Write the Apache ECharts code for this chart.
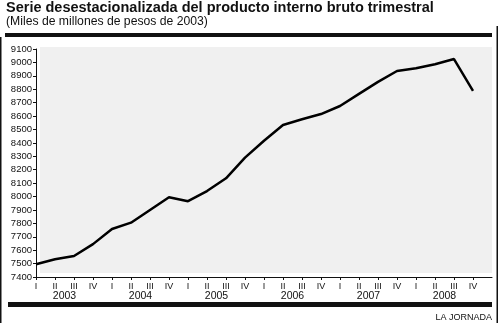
<!DOCTYPE html>
<html>
<head>
<meta charset="utf-8">
<script src="https://cdn.jsdelivr.net/npm/echarts@6/dist/echarts.min.js"></script>
<style>
html,body{margin:0;padding:0;background:#fff;}
#c{width:500px;height:323px;}
</style>
</head>
<body>
<div id="c"></div>
<script>
const years = ['2003', '2004', '2005', '2006', '2007', '2008'];
const quarters = ['I', 'II', 'III', 'IV'];
const pib = [7495, 7532, 7557, 7645, 7758, 7805, 7900, 7995, 7965, 8041, 8136, 8290,
             8416, 8533, 8576, 8615, 8675, 8765, 8855, 8936, 8956, 8986, 9025, 8787];
const yMin = 7400, yMax = 9100, yStep = 100;

const categories = [];
years.forEach(y => quarters.forEach(q => categories.push(y + ' ' + q)));
categories.push(''); // spacer so the axis runs past the last quarter

const FONT = 'Liberation Sans, Arial, sans-serif';
const chart = echarts.init(document.getElementById('c'), null, {renderer: 'canvas'});
chart.setOption({
  animation: false,
  backgroundColor: '#fff',
  grid: [
    {left: 36, right: 8, top: 49, bottom: 46},
    {left: 26.5, right: 17.5, top: 49, bottom: 46}
  ],
  xAxis: [
    {
      type: 'category', gridIndex: 0, data: categories, boundaryGap: false,
      axisLine: {lineStyle: {color: '#111', width: 1}},
      axisTick: {length: 3, interval: (i) => i < categories.length - 1, lineStyle: {color: '#111'}},
      axisLabel: {interval: 0, margin: 5, fontSize: 9, color: '#111', fontFamily: FONT,
        formatter: (v) => v ? v.split(' ')[1] : ''},
      splitLine: {show: false}
    },
    {
      type: 'category', gridIndex: 1, data: years, boundaryGap: true,
      axisLine: {show: false}, axisTick: {show: false},
      axisLabel: {interval: 0, margin: 14, fontSize: 10.5, color: '#111', fontFamily: FONT},
      splitLine: {show: false}
    }
  ],
  yAxis: [
    {
      type: 'value', gridIndex: 0, min: yMin, max: yMax, interval: yStep,
      axisLine: {show: true, lineStyle: {color: '#111', width: 1}},
      axisTick: {show: true, length: 3, lineStyle: {color: '#111'}},
      axisLabel: {margin: 4, fontSize: 9.5, color: '#111', fontFamily: FONT,
        formatter: (v) => String(v)},
      splitLine: {show: false}
    },
    {type: 'value', gridIndex: 1, show: false, min: 0, max: 1}
  ],
  graphic: [
    {type: 'rect', z: -10, shape: {x: 40, y: 47, width: 452, height: 226}, style: {fill: '#f0f0f0'}},
    {type: 'rect', shape: {x: 5, y: 33, width: 487, height: 4}, style: {fill: '#111'}},
    {type: 'rect', shape: {x: 8, y: 302, width: 484, height: 5}, style: {fill: '#111'}},
    {type: 'rect', shape: {x: 0, y: 37, width: 1.5, height: 286}, style: {fill: '#111'}},
    {type: 'rect', shape: {x: 496.5, y: 26, width: 1.5, height: 297}, style: {fill: '#111'}},
    {type: 'text', left: 6, top: 0, style: {text: 'Serie desestacionalizada del producto interno bruto trimestral',
      font: 'bold 14.5px ' + FONT, fill: '#111'}},
    {type: 'text', left: 6, top: 16, style: {text: '(Miles de millones de pesos de 2003)',
      font: '12.2px ' + FONT, fill: '#111'}},
    {type: 'text', right: 8, top: 313, style: {text: 'LA JORNADA', font: '9px ' + FONT, fill: '#111'}}
  ],
  series: [{
    type: 'line', xAxisIndex: 0, yAxisIndex: 0, data: pib,
    showSymbol: false, symbol: 'none',
    lineStyle: {color: '#000', width: 2.5}, z: 5
  }]
});
</script>
</body>
</html>
